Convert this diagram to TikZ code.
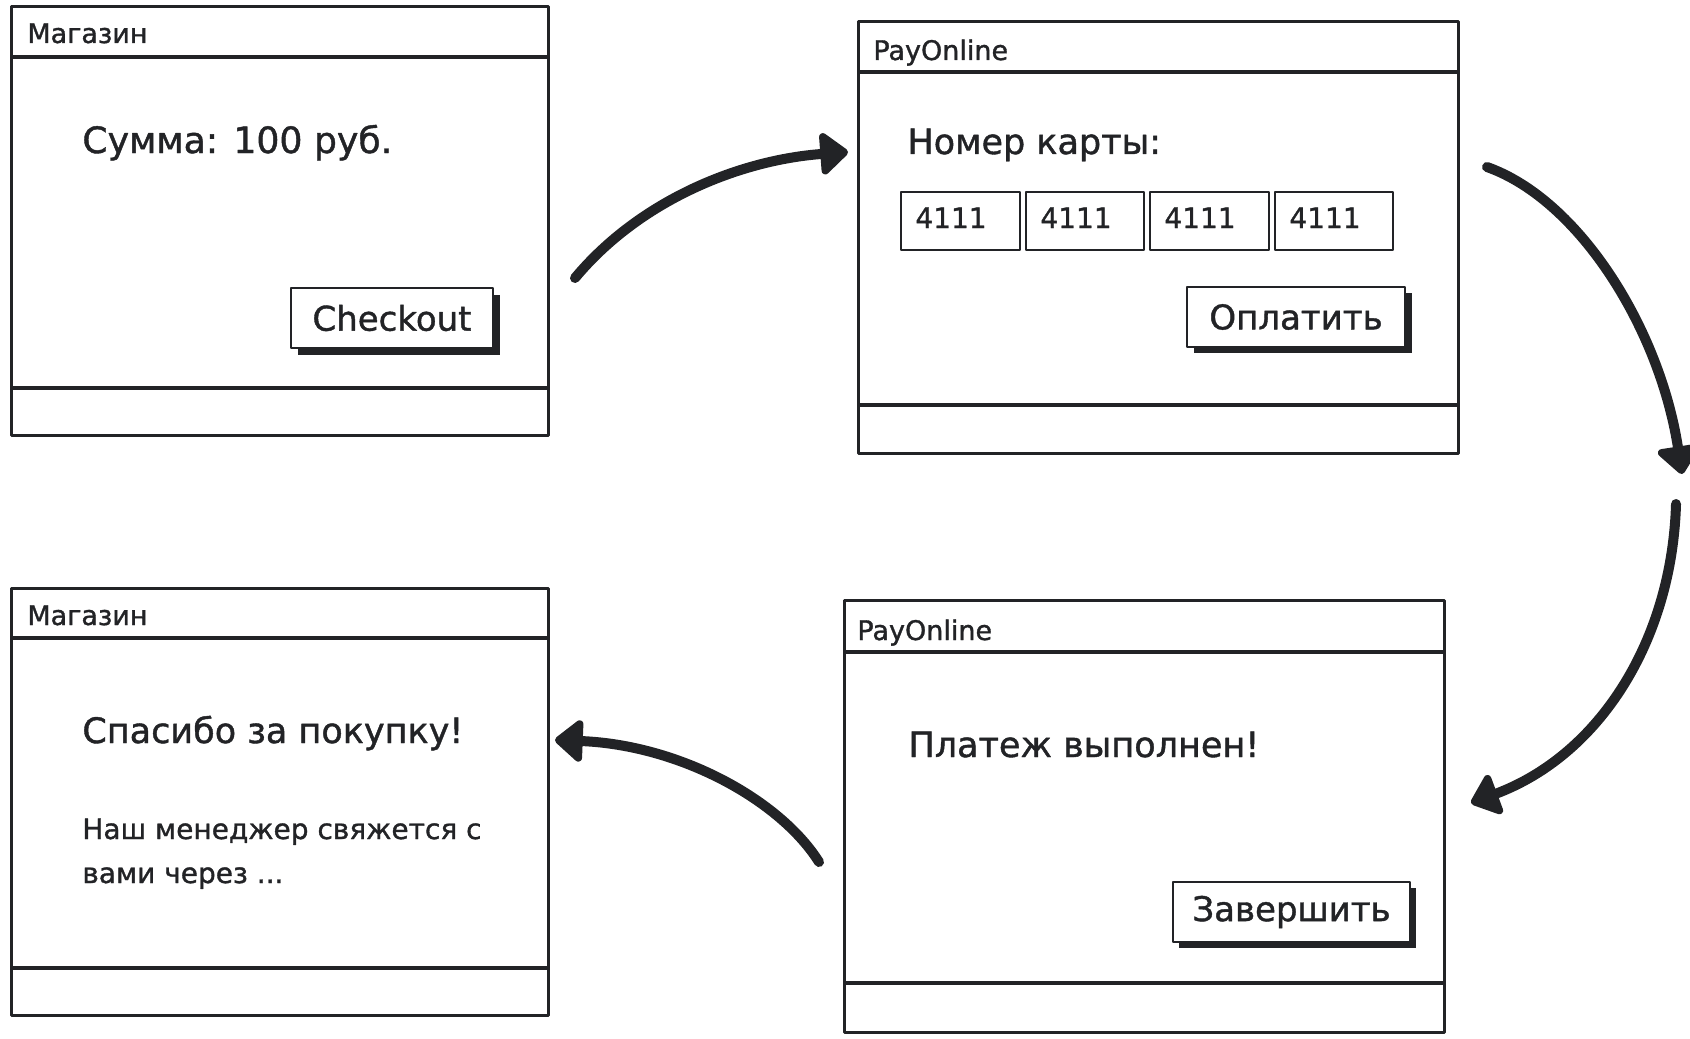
\documentclass[tikz,border=0pt]{standalone}
\usepackage{fontspec}
\setmainfont{DejaVu Sans}
\newfontfamily\hand{DejaVu Sans}[FakeBold=1.2]
\usetikzlibrary{arrows.meta}
\definecolor{ink}{HTML}{222326}
\begin{document}
\begin{tikzpicture}[x=0.5pt,y=-0.5pt,
  line join=round,
  win/.style={draw=ink, line width=1.5pt, fill=white, inner sep=0pt, outer sep=0pt, anchor=north west},
  winline/.style={draw=ink, line width=1.6pt},
  btn/.style={draw=ink, line width=1.4pt, fill=white, inner sep=0pt, outer sep=0pt, font=\hand\fontsize{17}{20}\selectfont, text=ink},
  shade/.style={fill=ink},
  field/.style={draw=ink, line width=1.2pt, inner sep=0pt, outer sep=0pt, anchor=north west, minimum height=29pt},
  ttl/.style={anchor=base west, inner sep=0pt, font=\hand\fontsize{13.5}{16}\selectfont, text=ink},
  big/.style={anchor=base west, inner sep=0pt, font=\hand\fontsize{17.5}{20}\selectfont, text=ink},
  small/.style={anchor=base west, inner sep=0pt, font=\hand\fontsize{14}{17}\selectfont, text=ink},
  digits/.style={anchor=base west, inner sep=0pt, font=\hand\fontsize{14}{17}\selectfont, text=ink},
  flow/.style={draw=ink, line width=5pt, line cap=round, -{Triangle[round, length=15pt, width=24pt]}}
]
\useasboundingbox (0,0) rectangle (1690,1038);

% ---------- window 1 ----------
\node[win, minimum width=537*0.5pt, minimum height=428*0.5pt] (w1) at (11,7) {};
\draw[winline] (11,57) -- (548,57);
\draw[winline] (11,388) -- (548,388);
\node[ttl] (w1t) at (27,43) {Магазин};
\node[big, font=\hand\fontsize{18.1}{21}\selectfont] (sum) at (82,153) {Сумма: 100 руб.};
\fill[shade] (298,295) rectangle (500,355);
\node[btn, minimum width=202*0.5pt, minimum height=60*0.5pt] (b1) at (392,318) {Checkout};

% ---------- window 2 ----------
\node[win, minimum width=600*0.5pt, minimum height=431*0.5pt] (w2) at (858,22) {};
\draw[winline] (858,72) -- (1458,72);
\draw[winline] (858,405) -- (1458,405);
\node[ttl] (w2t) at (873,60) {PayOnline};
\node[big] (card) at (907,154) {Номер карты:};
\node[field, minimum width=119*0.5pt] (f1) at (901,192) {};
\node[field, minimum width=118*0.5pt] (f2) at (1026,192) {};
\node[field, minimum width=119*0.5pt] (f3) at (1150,192) {};
\node[field, minimum width=118*0.5pt] (f4) at (1275,192) {};
\node[digits] (d1) at (915,228) {4111};
\node[digits] (d2) at (1040,228) {4111};
\node[digits] (d3) at (1164,228) {4111};
\node[digits] (d4) at (1289,228) {4111};
\fill[shade] (1194,293) rectangle (1412,353);
\node[btn, minimum width=218*0.5pt, minimum height=60*0.5pt] (b2) at (1296,317) {Оплатить};

% ---------- window 3 ----------
\node[win, minimum width=537*0.5pt, minimum height=427*0.5pt] (w3) at (11,588) {};
\draw[winline] (11,638) -- (548,638);
\draw[winline] (11,968) -- (548,968);
\node[ttl] (w3t) at (27,625) {Магазин};
\node[big] (thx) at (82,743) {Спасибо за покупку!};
\node[small] (msg1) at (82,839) {Наш менеджер свяжется с};
\node[small] (msg2) at (82,883) {вами через ...};

% ---------- window 4 ----------
\node[win, minimum width=600*0.5pt, minimum height=432*0.5pt] (w4) at (844,600) {};
\draw[winline] (844,652) -- (1444,652);
\draw[winline] (844,983) -- (1444,983);
\node[ttl] (w4t) at (857,640) {PayOnline};
\node[big] (done) at (908,757) {Платеж выполнен!};
\fill[shade] (1179,888) rectangle (1416,948);
\node[btn, minimum width=237*0.5pt, minimum height=60*0.5pt] (b3) at (1291.5,912) {Завершить};

% ---------- flow arrows ----------
\coordinate (a1s) at (575,278);
\coordinate (a1e) at (848,152);
\coordinate (a2s) at (1487,167);
\coordinate (a2e) at (1682,474);
\coordinate (a3s) at (1676,504);
\coordinate (a3e) at (1471,803);
\coordinate (a4s) at (819,862);
\coordinate (a4e) at (555,740);

\draw[flow] (a1s) .. controls (640,200) and (740,160) .. (a1e);
\draw[flow] (a2s) .. controls (1580,200) and (1660,330) .. (a2e);
\draw[flow] (a3s) .. controls (1672,640) and (1600,755) .. (a3e);
\draw[flow] (a4s) .. controls (780,800) and (680,745) .. (a4e);
\end{tikzpicture}
\end{document}
